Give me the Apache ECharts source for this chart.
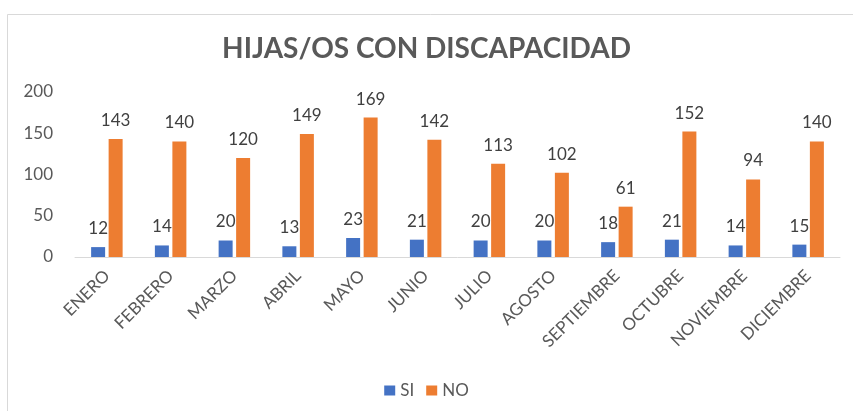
<!DOCTYPE html>
<html>
<head>
<meta charset="UTF-8">
<title>Hijas/os con discapacidad</title>
<script src="https://cdn.jsdelivr.net/npm/echarts@6/dist/echarts.min.js"></script>
<style>
  html, body { margin: 0; padding: 0; background: #fff; }
  #main { width: 853px; height: 411px; }
</style>
</head>
<body>
<div id="main"></div>
<script type="text/javascript">
// datos
var meses = ['ENERO', 'FEBRERO', 'MARZO', 'ABRIL', 'MAYO', 'JUNIO', 'JULIO', 'AGOSTO', 'SEPTIEMBRE', 'OCTUBRE', 'NOVIEMBRE', 'DICIEMBRE'];
var si = [12, 14, 20, 13, 23, 21, 20, 20, 18, 21, 14, 15];
var no = [143, 140, 120, 149, 169, 142, 113, 102, 61, 152, 94, 140];

var fuente = 'Lato, "Open Sans", sans-serif';
var gris = '#595959';

var myChart = echarts.init(document.getElementById('main'));
var option = {
  backgroundColor: '#fff',
  textStyle: { fontFamily: fuente },
  // marco del grafico
  graphic: [{
    type: 'rect',
    shape: { x: 7.5, y: 14.5, width: 860, height: 420 },
    style: { fill: 'none', stroke: '#D9D9D9', lineWidth: 1 },
    silent: true
  }],
  title: {
    text: 'HIJAS/OS CON DISCAPACIDAD',
    left: 'center',
    top: 30,
    textStyle: { fontFamily: fuente, fontSize: 28, fontWeight: 'bold', color: gris }
  },
  legend: {
    data: ['SI', 'NO'],
    top: 377,
    left: 'center',
    itemWidth: 11,
    itemHeight: 10,
    itemGap: 12,
    icon: 'rect',
    textStyle: { fontFamily: fuente, fontSize: 17, color: gris }
  },
  grid: { left: 75, right: 13, top: 92, bottom: 154 },
  xAxis: {
    type: 'category',
    data: meses,
    axisLine: { lineStyle: { color: '#D9D9D9', width: 1 } },
    axisTick: { show: false },
    axisLabel: {
      rotate: 45,
      interval: 0,
      margin: 16,
      fontFamily: fuente,
      fontSize: 17,
      color: gris
    }
  },
  yAxis: {
    type: 'value',
    min: 0,
    max: 200,
    interval: 50,
    splitLine: { show: false },
    axisLine: { show: false },
    axisTick: { show: false },
    axisLabel: { fontFamily: fuente, fontSize: 17, color: gris, margin: 22 }
  },
  series: [
    {
      name: 'SI',
      type: 'bar',
      data: si,
      barWidth: 14,
      barGap: '25%',
      itemStyle: { color: '#4472C4' },
      label: { show: true, position: 'top', distance: 10, fontFamily: fuente, fontSize: 17, color: '#404040' }
    },
    {
      name: 'NO',
      type: 'bar',
      data: no,
      barWidth: 14,
      itemStyle: { color: '#ED7D31' },
      label: { show: true, position: 'top', distance: 10, fontFamily: fuente, fontSize: 17, color: '#404040' }
    }
  ]
};
myChart.setOption(option);
</script>
</body>
</html>
